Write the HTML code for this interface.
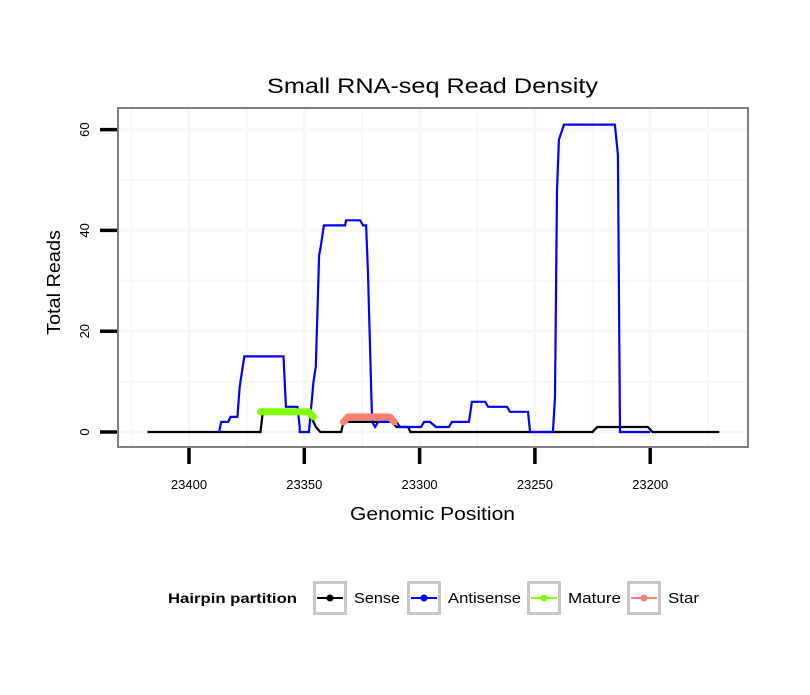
<!DOCTYPE html>
<html><head><meta charset="utf-8"><style>
body{margin:0;background:#fff;}
svg text{font-family:"Liberation Sans",sans-serif;}
</style></head><body>
<svg id="chart" width="810" height="690" xmlns="http://www.w3.org/2000/svg">
<rect width="810" height="690" fill="#fff"/>
<text x="267" y="93" font-size="21" textLength="331" lengthAdjust="spacingAndGlyphs">Small RNA-seq Read Density</text>
<g id="grid"></g>
<g id="series"></g>
<rect x="118" y="108" width="630" height="339" fill="none" stroke="#808080" stroke-width="2"/>
<g id="axes"></g>
<text x="350" y="520" font-size="18" textLength="165" lengthAdjust="spacingAndGlyphs">Genomic Position</text>
<text transform="translate(60,335) rotate(-90)" font-size="18" textLength="105" lengthAdjust="spacingAndGlyphs">Total Reads</text>
<g id="legend">
<text x="168" y="603" font-size="14" font-weight="bold" textLength="129" lengthAdjust="spacingAndGlyphs">Hairpin partition</text>
</g>
</svg>
<script>
const xTicks=[23400,23350,23300,23250,23200];
const yTicks=[0,20,40,60];
const senseX=[23418,23369,23368,23348,23345,23343,23334,23333,23312,23310,23305,23304,23225,23223,23201,23199,23170];
const senseY=[0,0,4,4,1,0,0,2,2,1,1,0,0,1,1,0,0];
const antiX=[23387,23386,23383,23382,23379,23378,23376,23359,23358,23353,23352,23352,23348,23346,23345,23344.5,23343.6,23342.8,23341.5,23332.3,23331.9,23325.8,23324.5,23323.2,23322.4,23320.6,23319.3,23318,23310,23308.5,23299.4,23298.1,23295.5,23292.9,23287.3,23286,23278.6,23277.3,23271.6,23270.3,23262.1,23260.8,23253,23252.1,23242.2,23241.3,23240.4,23239.6,23237.4,23215.3,23214,23213.1,23200];
const antiY=[0,2,2,3,3,9,15,15,5,5,1,0,0,10,13,21,35,37,41,41,42,42,41,41,32,2,1,2,2,1,1,2,2,1,1,2,2,6,6,5,5,4,4,0,0,7,48,58,61,61,55,0,0];
const matureX=[23369,23348,23346];
const matureY=[4,4,3];
const starX=[23333,23331,23313,23311];
const starY=[2,3,3,2];
const legendLabels=["Sense","Antisense","Mature","Star"];
const colors=["#000000","#0000ff","#7fff00","#fa8072"];

const xs=v=>189+(23400-v)*2.306;
const ys=v=>432-v*5.04;
const NS="http://www.w3.org/2000/svg";
function mk(tag,attrs,parent){const e=document.createElementNS(NS,tag);for(const k in attrs)e.setAttribute(k,attrs[k]);document.getElementById(parent).appendChild(e);return e;}

for(let v=23425;v>=23150;v-=25){const x=xs(v);if(x<119||x>747)continue;
 const l=mk('line',{x1:x,x2:x,y1:109,y2:446,stroke:'#f7f7f7','stroke-width':v%50===0?3:2},'grid');
 
 }
for(let v=-10;v<=70;v+=10){const y=ys(v);if(y<109||y>446)continue;
 const l=mk('line',{x1:119,x2:747,y1:y,y2:y,stroke:'#f7f7f7','stroke-width':v%20===0?3:2},'grid');
 
 }
xTicks.forEach(v=>{const x=xs(v);
 const t=mk('line',{x1:x,x2:x,y1:448,y2:464,stroke:'#000','stroke-width':3.5},'axes');
 
 
 const l=mk('text',{x:x,y:489,'font-size':13,'text-anchor':'middle'},'axes');l.textContent=v;
 
 });
yTicks.forEach(v=>{const y=ys(v);
 const t=mk('line',{x1:100,x2:117,y1:y,y2:y,stroke:'#000','stroke-width':3.5},'axes');
 
 
 const l=mk('text',{transform:`translate(89,${y}) rotate(-90)`,'font-size':13,'text-anchor':'middle'},'axes');l.textContent=v;
 
 });
function path(X,Y){return X.map((x,i)=>(i?'L':'M')+xs(x).toFixed(1)+','+ys(Y[i]).toFixed(1)).join('');}
const s1=mk('path',{d:path(senseX,senseY),fill:'none',stroke:colors[0],'stroke-width':2.2},'series');


const s2=mk('path',{d:path(antiX,antiY),fill:'none',stroke:colors[1],'stroke-width':2.2},'series');


const s3=mk('path',{d:path(matureX,matureY),fill:'none',stroke:colors[2],'stroke-width':7,'stroke-linecap':'round','stroke-linejoin':'round'},'series');


const s4=mk('path',{d:path(starX,starY),fill:'none',stroke:colors[3],'stroke-width':7,'stroke-linecap':'round','stroke-linejoin':'round'},'series');


const lx=[313,407,527,627];
const lw=[46,73,53,31];
legendLabels.forEach((lab,i)=>{const x=lx[i];
 const b=mk('rect',{x:x+1.5,y:582.5,width:31,height:31,fill:'#fff',stroke:'#c8c8c8','stroke-width':3},'legend');
 
 
 const l=mk('line',{x1:x+4,x2:x+30,y1:598,y2:598,stroke:colors[i],'stroke-width':2},'legend');
 
 
 const c=mk('circle',{cx:x+17,cy:598,r:3.5,fill:colors[i]},'legend');
 
 
 const t=mk('text',{x:x+41,y:603,'font-size':15,textLength:lw[i],lengthAdjust:'spacingAndGlyphs'},'legend');t.textContent=lab;
 
 });
</script>
</body></html>
